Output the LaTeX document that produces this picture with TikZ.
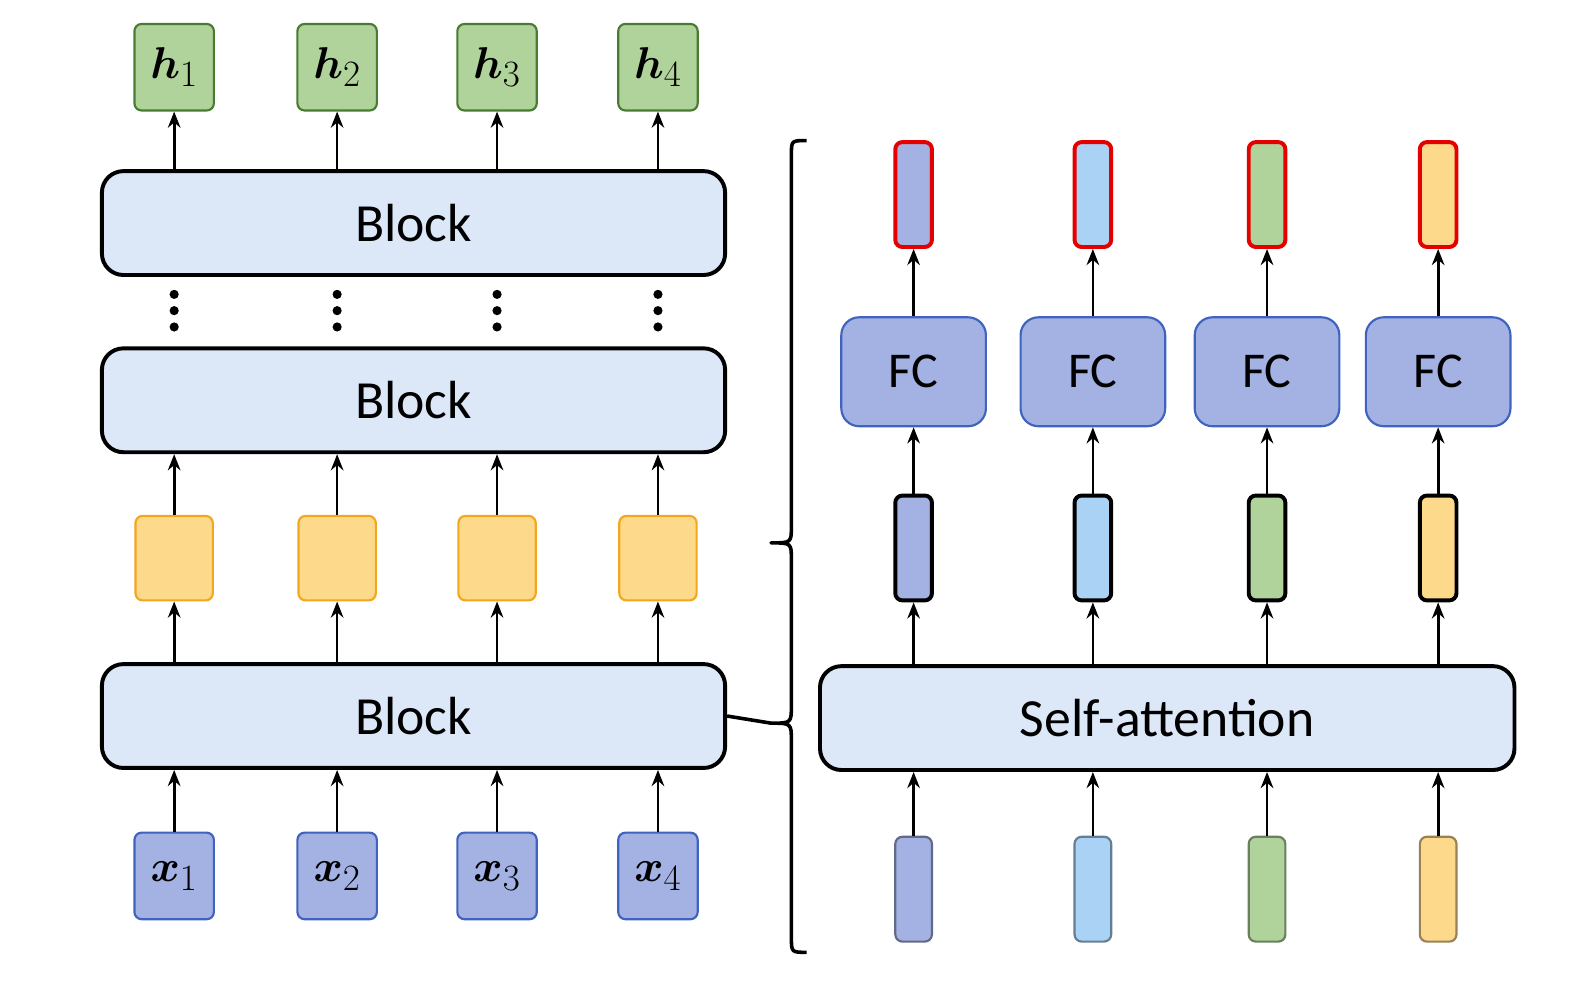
\documentclass[tikz,border=0pt]{standalone}
\usepackage{amsmath, amssymb}
\usepackage{bm}
\usepackage{fontspec}
\setmainfont{Carlito}
\usepackage{tikz}
\usetikzlibrary{arrows.meta, positioning}

\definecolor{cPur}{HTML}{A3B1E3}
\definecolor{cPurB}{HTML}{3F63BE}
\definecolor{cSky}{HTML}{A9D2F5}
\definecolor{cSkyB}{HTML}{3E8EDC}
\definecolor{cGrn}{HTML}{AFD39B}
\definecolor{cGrnB}{HTML}{5B9A3F}
\definecolor{cYel}{HTML}{FDD98C}
\definecolor{cYelB}{HTML}{F2A81D}
\definecolor{cBlk}{HTML}{DCE7F7}

\begin{document}
\begin{tikzpicture}[x=0.02cm, y=-0.02cm,
block/.style={draw, line width=2.2pt, rounded corners=12pt, fill=cBlk, minimum width=12.24cm, minimum height=2.04cm, font=\fontsize{30}{36}\selectfont},
tok/.style={draw, line width=1.2pt, rounded corners=4pt, minimum width=1.56cm, minimum height=1.7cm, font=\fontsize{28}{32}\selectfont},
sq/.style={draw=cYelB, fill=cYel, line width=1.2pt, rounded corners=4pt, minimum width=1.52cm, minimum height=1.66cm},
fc/.style={draw=cPurB, fill=cPur, line width=1.2pt, rounded corners=10pt, minimum width=2.84cm, minimum height=2.14cm, font=\fontsize{28}{32}\selectfont},
bar/.style={draw, rounded corners=4pt, minimum width=0.72cm, minimum height=2.06cm},
arr/.style={-{Stealth[length=9pt, width=7pt]}, line width=1.5pt}
]
\useasboundingbox (0,0) rectangle (1566,968);

% left column
\node[block] (b3) at (406,219) {Block};
\node[block] (b2) at (406,393) {Block};
\node[block] (b1) at (406,703) {Block};
\foreach \i/\x in {1/171, 2/331, 3/488, 4/646} {
  \node[tok, draw=cGrnB!80!black, fill=cGrn] (h\i) at (\x,66) {$\bm{h}_{\i}$};
  \node[sq] (y\i) at (\x,548) {};
  \node[tok, draw=cPurB, fill=cPur] (x\i) at (\x,860) {$\bm{x}_{\i}$};
  \foreach \dy in {289,305,321} \fill (\x,\dy) circle (4.5);
  \draw[arr] (x\i) -- (x\i |- b1.south);
  \draw[arr] (x\i |- b1.north) -- (y\i);
  \draw[arr] (y\i) -- (x\i |- b2.south);
  \draw[arr] (x\i |- b3.north) -- (h\i);
}

% brace
\coordinate (tip) at (757,710);
\draw[line width=2pt, line join=round]
  (792,138) .. controls (777,138) .. (777,152) -- (777,516)
  .. controls (777,533) .. (757,533) .. controls (777,533) .. (777,550)
  -- (777,692) .. controls (777,710) .. (tip) .. controls (777,710) .. (777,728)
  -- (777,920) .. controls (777,935) .. (792,935);
\draw[line width=2pt] (b1.east) -- (tip);

% right column
\node[block, minimum width=13.64cm] (sa) at (1146,705) {Self-attention};
\foreach \i/\x/\c in {1/897/cPur, 2/1073/cSky, 3/1244/cGrn, 4/1412/cYel} {
  \node[bar, fill=\c, draw=\c!60!black, line width=1.2pt] (e\i) at (\x,873) {};
  \node[bar, fill=\c, line width=2.2pt] (m\i) at (\x,538) {};
  \node[fc] (f\i) at (\x,365) {FC};
  \node[bar, fill=\c, draw=red!90!black, line width=2.2pt] (o\i) at (\x,191) {};
  \draw[arr] (e\i) -- (e\i |- sa.south);
  \draw[arr] (m\i |- sa.north) -- (m\i);
  \draw[arr] (m\i) -- (f\i);
  \draw[arr] (f\i) -- (o\i);
}
\end{tikzpicture}
\end{document}
